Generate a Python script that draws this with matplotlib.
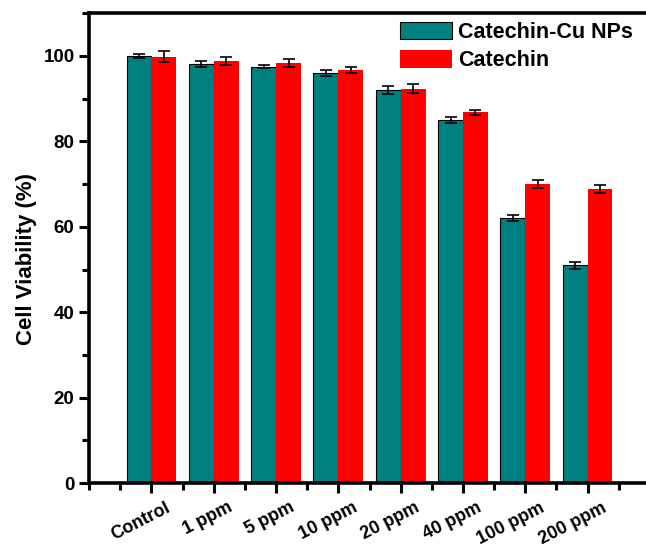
import numpy as np
import matplotlib
matplotlib.use('Agg')
import matplotlib.pyplot as plt
from matplotlib.ticker import MultipleLocator
from matplotlib.transforms import ScaledTranslation

plt.rcParams['font.family'] = ['Liberation Sans', 'DejaVu Sans']
plt.rcParams['font.weight'] = 'bold'

# --- data ---
categories = ['Control', '1 ppm', '5 ppm', '10 ppm', '20 ppm', '40 ppm', '100 ppm', '200 ppm']
cu_nps = [100.0, 98.0, 97.5, 96.0, 92.0, 85.0, 62.0, 51.0]
cu_nps_err = [0.5, 0.7, 0.4, 0.6, 0.9, 0.7, 0.7, 0.8]
catechin = [99.8, 98.8, 98.3, 96.8, 92.3, 86.8, 70.0, 68.8]
catechin_err = [1.3, 1.0, 0.9, 0.7, 1.1, 0.6, 1.0, 1.0]

x = np.arange(len(categories))
w = 0.4

fig = plt.figure(figsize=(6.46, 5.49), dpi=100)
ax = fig.add_axes([0.138, 0.12, 0.868, 0.856])

err_kw = dict(ecolor='black', elinewidth=1.2, capsize=4, capthick=1.2)
ax.bar(x - w / 2, cu_nps, w, yerr=cu_nps_err, color='#008080', edgecolor='black',
       linewidth=0.8, label='Catechin-Cu NPs', error_kw=err_kw)
ax.bar(x + w / 2, catechin, w, yerr=catechin_err, color='#FF0000', edgecolor='none',
       label='Catechin', error_kw=err_kw)

ax.set_xlim(-1, 8)
ax.set_ylim(0, 110)
ax.set_xticks(x)
ax.set_xticklabels(categories, rotation=27, ha='right', va='top',
                   rotation_mode='anchor', fontsize=13)
ax.xaxis.set_minor_locator(MultipleLocator(0.5))
ax.yaxis.set_major_locator(MultipleLocator(20))
ax.yaxis.set_minor_locator(MultipleLocator(10))
ax.tick_params(axis='y', labelsize=13.5)
ax.tick_params(which='major', direction='out', length=7, width=2.2)
ax.tick_params(which='minor', direction='out', length=5, width=2.2)
ax.tick_params(axis='x', which='major', pad=4.5)

# shift the rotated labels a little to the right, as in the original
# (after tick_params, which would reset the transforms)
offset = ScaledTranslation(0.14, 0, fig.dpi_scale_trans)
for lbl in ax.get_xticklabels():
    lbl.set_transform(lbl.get_transform() + offset)

for s in ['left', 'bottom', 'top', 'right']:
    ax.spines[s].set_linewidth(2.6)

ax.set_ylabel('Cell Viability (%)', fontsize=16, fontweight='bold')
ax.yaxis.set_label_coords(-0.093, 0.477)

ax.legend(loc='upper right', bbox_to_anchor=(0.985, 1.0), frameon=False, fontsize=15.5,
          handlelength=2.4, handleheight=0.85, handletextpad=0.3, labelspacing=0.35,
          borderaxespad=0.0)

fig.savefig('out.png', dpi=100)
